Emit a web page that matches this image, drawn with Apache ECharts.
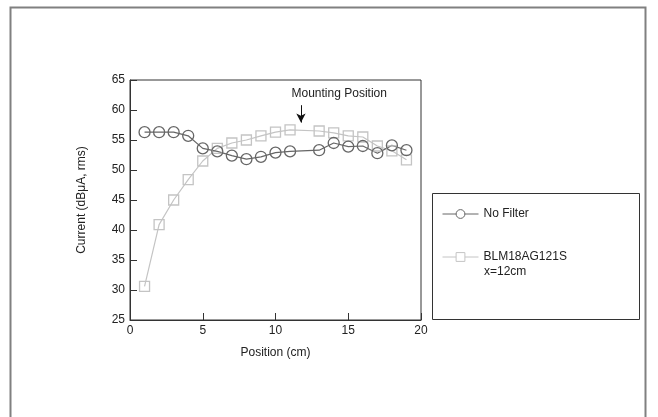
<!DOCTYPE html>
<html>
<head>
<meta charset="utf-8">
<script src="https://cdn.jsdelivr.net/npm/echarts@6/dist/echarts.min.js"></script>
<style>html,body{margin:0;padding:0;background:#fff}#c{width:658px;height:417px}</style>
</head>
<body>
<div id="c"></div>
<script>
var positions = [1,2,3,4,5,6,7,8,9,10,11,13,14,15,16,17,18,19];
var noFilter = [56.3,56.3,56.3,55.7,53.6,53.1,52.4,51.8,52.2,52.9,53.1,53.3,54.5,53.9,54.0,52.8,54.1,53.3];
var blm =      [30.6,40.9,45.0,48.4,51.5,53.6,54.5,55.0,55.7,56.3,56.7,56.5,56.2,55.7,55.5,54.0,53.2,51.7];
var xTicks = [0,5,10,15,20];
var yTicks = [25,30,35,40,45,50,55,60,65];
var mountX = 11.75;

function pairs(xs, ys){ return xs.map(function(x,i){ return [x, ys[i]]; }); }

var chart = echarts.init(document.getElementById('c'));
var font = 'Liberation Sans, Arial, sans-serif';
chart.setOption({
  animation: false,
  textStyle: {fontFamily: font},
  grid: {left: 130, top: 80, right: 237, bottom: 97, show: true, borderColor: '#333', borderWidth: 1},
  xAxis: {
    type: 'value', min: xTicks[0], max: xTicks[xTicks.length-1], interval: 5,
    name: 'Position (cm)', nameLocation: 'middle', nameGap: 27,
    nameTextStyle: {color: '#222', fontSize: 12, fontFamily: font},
    axisLine: {lineStyle: {color: '#333'}},
    axisTick: {inside: true, length: 7, lineStyle: {color: '#333'}},
    axisLabel: {color: '#222', fontSize: 12, margin: 5, fontFamily: font},
    splitLine: {show: false}
  },
  yAxis: {
    type: 'value', min: yTicks[0], max: yTicks[yTicks.length-1], interval: 5,
    name: 'Current (dBμA, rms)', nameLocation: 'middle', nameGap: 42,
    nameTextStyle: {color: '#222', fontSize: 12, fontFamily: font},
    axisLine: {show: true, lineStyle: {color: '#333'}},
    axisTick: {show: true, inside: true, length: 7, lineStyle: {color: '#333'}},
    axisLabel: {color: '#222', fontSize: 12, margin: 5, fontFamily: font},
    splitLine: {show: false}
  },
  legend: {
    orient: 'vertical', left: 442, top: 208, padding: 0, itemWidth: 36, itemHeight: 11, itemGap: 31,
    textStyle: {color: '#222', fontSize: 12, fontFamily: font},
    data: [
      {name: 'No Filter', itemStyle: {color: '#fff', borderColor: '#666', borderWidth: 1}, lineStyle: {width: 1, color: '#666'}},
      {name: 'BLM18AG121S', itemStyle: {color: '#fff', borderColor: '#c4c4c4', borderWidth: 1}, lineStyle: {width: 1, color: '#c4c4c4'}}
    ]
  },
  graphic: [
    {type: 'rect', shape: {x: 10.5, y: 7.5, width: 635, height: 420}, style: {fill: 'none', stroke: '#808080', lineWidth: 2}},
    {type: 'rect', shape: {x: 432.5, y: 193.5, width: 207, height: 126}, style: {fill: 'none', stroke: '#333', lineWidth: 1}},
    {type: 'text', left: 484, top: 266, style: {text: 'x=12cm', fill: '#222', font: '12px ' + font}}
  ],
  series: [
    {
      name: 'BLM18AG121S', type: 'line', data: pairs(positions, blm),
      symbol: 'rect', symbolSize: 10,
      lineStyle: {color: '#c4c4c4', width: 1.2},
      itemStyle: {color: 'rgba(255,255,255,0)', borderColor: '#c4c4c4', borderWidth: 1.3},
      markLine: {
        silent: true, symbol: ['none', 'arrow'], symbolSize: [7, 9],
        lineStyle: {color: '#111', width: 1, type: 'solid'},
        label: {show: false},
        data: [[{coord: [mountX, 60.8]}, {coord: [mountX, 57.9]}]]
      },
      markPoint: {
        silent: true, symbol: 'circle', symbolSize: 0,
        label: {show: true, position: 'inside', align: 'left', verticalAlign: 'middle', color: '#222', fontSize: 12, fontFamily: font, formatter: 'Mounting Position'},
        data: [{coord: [11.1, 62.7]}]
      }
    },
    {
      name: 'No Filter', type: 'line', data: pairs(positions, noFilter),
      symbol: 'circle', symbolSize: 11,
      lineStyle: {color: '#666', width: 1.2},
      itemStyle: {color: 'rgba(255,255,255,0)', borderColor: '#666', borderWidth: 1.3}
    }
  ]
});
</script>
</body>
</html>
